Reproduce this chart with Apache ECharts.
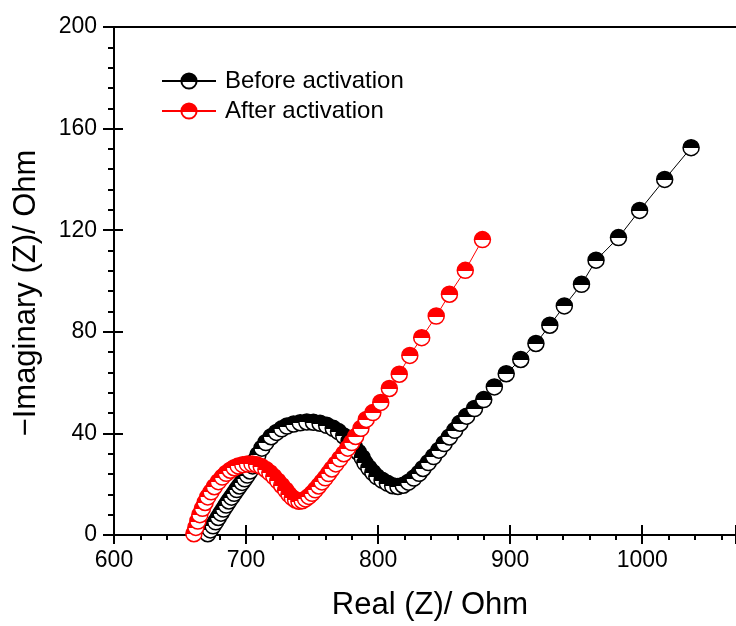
<!DOCTYPE html>
<html>
<head>
<meta charset="utf-8">
<script src="https://cdn.jsdelivr.net/npm/echarts@6/dist/echarts.min.js"></script>
<style>
html,body{margin:0;padding:0;background:#fff;}
#chart{width:736px;height:626px;}
</style>
</head>
<body>
<div id="chart"></div>
<script>
// ---- data ----
const xTickLabels = ['600', '700', '800', '900', '1000'];
const yTickLabels = ['0', '40', '80', '120', '160', '200'];
const seriesNames = ['Before activation', 'After activation'];

const beforeX = [671, 673, 675, 677, 679, 681, 683, 685, 687, 689, 691, 693, 695, 697, 699, 701, 703, 705, 707, 709,
  712, 715, 719, 723, 727, 731, 736, 741, 746, 751, 756, 761, 766, 770, 774, 778, 782, 785, 788, 790,
  793, 796, 799, 803, 807, 811, 815, 819, 823, 827, 831, 834, 838, 842, 846, 850, 854, 858, 862, 867,
  873, 880, 888, 897, 908, 919.5, 930, 941, 954, 965, 982, 998, 1017, 1037];
const beforeY = [0.5, 2, 3.6, 5.2, 6.9, 8.6, 10.2, 11.8, 13.4, 14.9, 16.4, 17.9, 19.3, 20.7, 22.1, 23.6, 25.2, 27.2, 29.4, 31.6,
  34.2, 36.4, 38.7, 40.4, 41.8, 42.9, 43.7, 44.2, 44.5, 44.4, 44, 43.2, 42, 40.7, 39, 37, 34.8, 32.6, 30.4, 28.4,
  26.4, 24.6, 23, 21.6, 20.4, 19.4, 19.1, 19.6, 20.8, 22.4, 24.3, 26.2, 28.5, 30.9, 33.4, 36, 38.6, 41.2, 44, 46.8,
  49.8, 53.3, 58.3, 63.5, 69.1, 75.4, 82.6, 90.2, 98.7, 108.2, 117.1, 127.8, 140, 152.5];

const afterX = [660.5, 662, 663.5, 665, 667, 669, 671, 673.5, 676, 679, 682, 685, 688, 691, 694, 697.5, 701, 704.5, 708, 711.5,
  715, 718, 721, 724, 727, 730, 732.5, 735, 737.5, 740, 742.5, 745, 747.5, 750, 752.5, 755, 757.5, 760, 762.5, 765,
  768, 771, 774, 777, 780, 783, 787, 791, 796, 802, 808.5, 816, 824, 833, 844, 854, 866, 879];
const afterY = [0.5, 3, 5.5, 8, 10.5, 12.8, 15, 17, 19, 21, 22.8, 24.3, 25.5, 26.5, 27.2, 27.7, 28, 28, 27.7, 27,
  25.8, 24.5, 23, 21.3, 19.5, 17.7, 16, 14.7, 13.8, 13.3, 13.5, 14.2, 15.2, 16.4, 17.8, 19.3, 20.9, 22.5, 24.2, 26,
  28, 30, 32, 34.2, 36.4, 38.8, 42, 45.5, 48.2, 52.2, 57.7, 63.3, 70.7, 77.7, 86.2, 94.8, 104.2, 116.3];

const X_MIN = 600, X_MAX = 1071, X_INT = 100;
const Y_MIN = 0, Y_MAX = 200, Y_INT = 40;

function halfFill(c) {
  return {
    type: 'linear', x: 0, y: 0, x2: 0, y2: 1,
    colorStops: [
      { offset: 0, color: c }, { offset: 0.53, color: c },
      { offset: 0.53, color: '#ffffff' }, { offset: 1, color: '#ffffff' }
    ]
  };
}

const FONT = 'Liberation Sans, Arial, sans-serif';
const chart = echarts.init(document.getElementById('chart'), null, { renderer: 'canvas' });

const gridPos = { left: 114, top: 27, right: 0, bottom: 91 };

chart.setOption({
  backgroundColor: '#ffffff',
  animation: false,
  grid: [Object.assign({}, gridPos), Object.assign({}, gridPos)],
  legend: {
    left: 161, top: 69, orient: 'vertical', padding: 0,
    itemWidth: 54, itemHeight: 19, itemGap: 6,
    data: seriesNames,
    textStyle: { fontFamily: FONT, fontSize: 24, color: '#000', padding: [0, 0, 0, 4] }
  },
  xAxis: [
    {
      type: 'value', gridIndex: 0, position: 'bottom', min: X_MIN, max: X_MAX, interval: X_INT,
      name: 'Real (Z)/ Ohm', nameLocation: 'middle', nameGap: 55,
      nameTextStyle: { fontFamily: FONT, fontSize: 31, color: '#000', padding: [0, 0, 0, 10] },
      axisLine: { onZero: false, lineStyle: { color: '#000', width: 2 } },
      axisTick: { show: true, inside: false, length: 9, lineStyle: { color: '#000', width: 2 } },
      minorTick: { show: true, splitNumber: 5, length: 5, lineStyle: { color: '#000', width: 2 } },
      axisLabel: {
        fontFamily: FONT, fontSize: 23, color: '#000', margin: 14, showMaxLabel: false,
        formatter: function (v) { const i = (v - X_MIN) / X_INT; return Number.isInteger(i) && xTickLabels[i] ? xTickLabels[i] : ''; }
      },
      splitLine: { show: false }
    },
    {
      type: 'value', gridIndex: 0, position: 'top', min: X_MIN, max: X_MAX, interval: X_INT,
      axisLine: { onZero: false, lineStyle: { color: '#000', width: 2 } },
      axisTick: { show: false }, axisLabel: { show: false }, splitLine: { show: false }
    },
    {
      type: 'value', gridIndex: 1, position: 'bottom', min: X_MIN, max: X_MAX, interval: X_INT,
      axisLine: { show: false, onZero: false },
      axisTick: { show: true, inside: true, length: 10, lineStyle: { color: '#000', width: 2 } },
      axisLabel: { show: false, showMaxLabel: false }, splitLine: { show: false }
    }
  ],
  yAxis: [
    {
      type: 'value', gridIndex: 0, position: 'left', min: Y_MIN, max: Y_MAX, interval: Y_INT,
      name: '\u2212Imaginary (Z)/ Ohm', nameLocation: 'middle', nameGap: 72,
      nameTextStyle: { fontFamily: FONT, fontSize: 31, color: '#000', padding: [0, 24, 0, 0] },
      axisLine: { onZero: false, lineStyle: { color: '#000', width: 2 } },
      axisTick: { show: true, inside: false, length: 11, lineStyle: { color: '#000', width: 2 } },
      minorTick: { show: true, splitNumber: 5, length: 6, lineStyle: { color: '#000', width: 2 } },
      axisLabel: {
        fontFamily: FONT, fontSize: 23, color: '#000', margin: 17,
        formatter: function (v) { const i = (v - Y_MIN) / Y_INT; return Number.isInteger(i) && yTickLabels[i] ? yTickLabels[i] : ''; }
      },
      splitLine: { show: false }
    },
    {
      type: 'value', gridIndex: 1, position: 'left', min: Y_MIN, max: Y_MAX, interval: Y_INT,
      axisLine: { show: false, onZero: false },
      axisTick: { show: true, inside: true, length: 9, lineStyle: { color: '#000', width: 2 } },
      axisLabel: { show: false }, splitLine: { show: false }
    }
  ],
  series: [
    {
      name: seriesNames[0], type: 'line', xAxisIndex: 0, yAxisIndex: 0,
      data: beforeX.map((x, i) => [x, beforeY[i]]),
      symbol: 'circle', symbolSize: 16, showAllSymbol: true,
      lineStyle: { color: '#000', width: 1 },
      itemStyle: { color: halfFill('#000000'), borderColor: '#000000', borderWidth: 1.5 },
      z: 3
    },
    {
      name: seriesNames[1], type: 'line', xAxisIndex: 0, yAxisIndex: 0,
      data: afterX.map((x, i) => [x, afterY[i]]),
      symbol: 'circle', symbolSize: 16, showAllSymbol: true,
      lineStyle: { color: '#ff0000', width: 1 },
      itemStyle: { color: halfFill('#ff0000'), borderColor: '#ff0000', borderWidth: 1.5 },
      z: 4
    }
  ]
});
</script>
</body>
</html>
